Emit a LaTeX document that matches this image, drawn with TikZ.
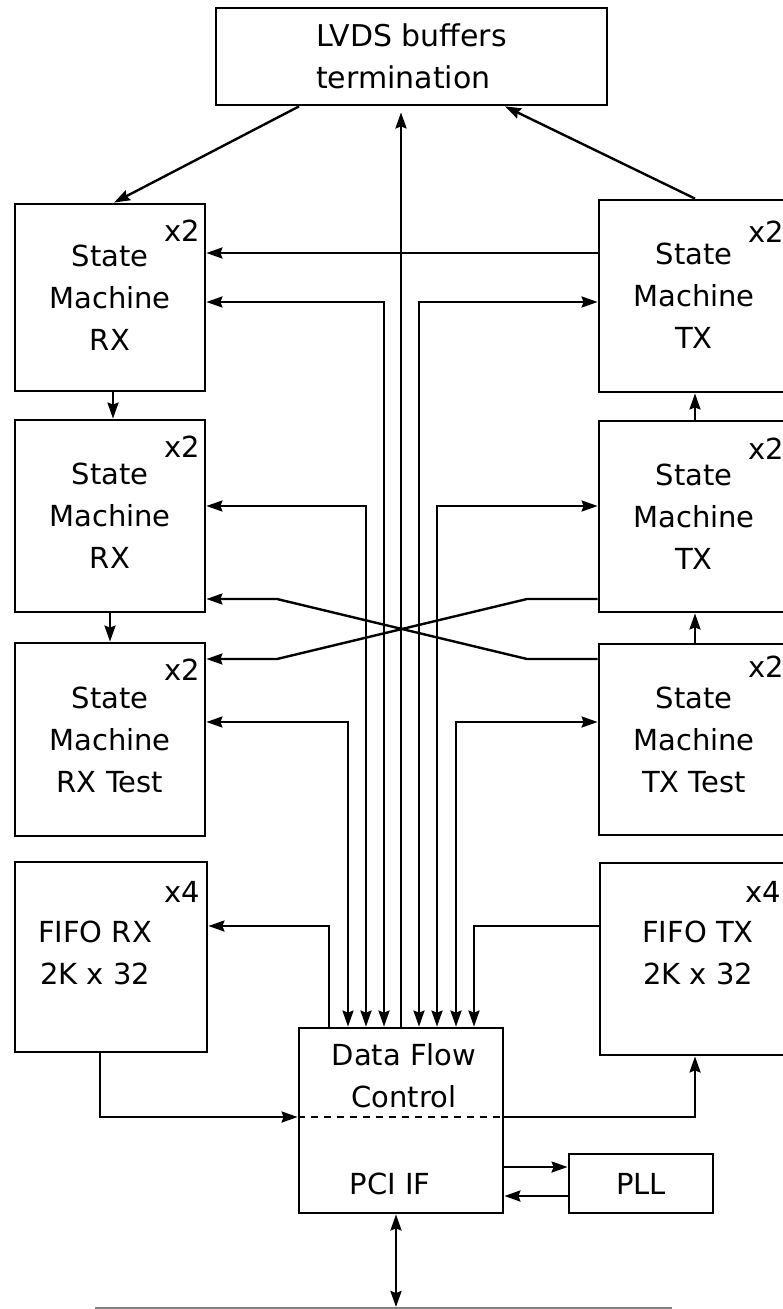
\documentclass[tikz,border=0pt]{standalone}
\usepackage{fontspec}
\setmainfont{DejaVu Sans}
\usetikzlibrary{arrows.meta}
\begin{document}
\begin{tikzpicture}[x=1pt,y=-1pt,
  line width=2.4pt,
  tip/.tip={Stealth[length=16pt,width=11pt,inset=2pt]},
  box/.style={draw, line width=2.8pt, inner sep=0pt, align=center, font=\fontsize{29}{42}\selectfont},
  txt/.style={inner sep=0pt, align=center, font=\fontsize{29}{42}\selectfont},
  arr/.style={-tip},
  barr/.style={tip-tip},
]
\useasboundingbox (0,0) rectangle (783,1309);
\clip (0,0) rectangle (783,1309);

% boxes
\node[box, align=left, font=\fontsize{30}{42}\selectfont, minimum width=391, minimum height=97] (lvds) at (411.5,56.5) {LVDS buffers\\termination};
\node[box, minimum width=190, minimum height=187] (rx1) at (110,297.5) {State\\Machine\\RX};
\node[box, minimum width=190, minimum height=192] (rx2) at (110,516) {State\\Machine\\RX};
\node[box, minimum width=190, minimum height=193] (rxt) at (110,739.5) {State\\Machine\\RX Test};
\node[box, minimum width=192, minimum height=190] (fiforx) at (111,957) {};
\node[box, minimum width=190, minimum height=192] (tx1) at (694,296) {State\\Machine\\TX};
\node[box, minimum width=190, minimum height=191] (tx2) at (694,516.5) {State\\Machine\\TX};
\node[box, minimum width=190, minimum height=191] (txt) at (694,739.5) {State\\Machine\\TX Test};
\node[box, minimum width=189, minimum height=192] (fifotx) at (694.5,959) {};
\node[box, minimum width=204, minimum height=185] (dfc) at (401,1120.5) {};
\node[box, minimum width=144, minimum height=59] (pll) at (641,1183.5) {PLL};

% labels
\node[txt] (n1) at (182,231) {x2};
\node[txt] (n2) at (182,447) {x2};
\node[txt] (n3) at (182,670) {x2};
\node[txt] (n4) at (182,892) {x4};
\node[txt] (n5) at (766,232) {x2};
\node[txt] (n6) at (766,449) {x2};
\node[txt] (n7) at (766,667) {x2};
\node[txt] (n8) at (763,892) {x4};
\node[txt] (fiforxt) at (95,953) {FIFO RX\\2K x 32};
\node[txt] (fifotxt) at (698,953) {FIFO TX\\2K x 32};
\node[txt] (dfct) at (404,1076) {Data Flow\\Control};
\node[txt] (pcit) at (390,1184) {PCI IF};

% LVDS connections
\coordinate (a1) at (299,0);
\coordinate (a2) at (114,0);
\coordinate (a3) at (695,0);
\coordinate (a4) at (505,0);
\coordinate (a5) at (401,0);
\draw[arr] (a1 |- lvds.south) -- (a2 |- rx1.north);
\draw[arr] (a3 |- tx1.north) -- (a4 |- lvds.south);
\draw[arr, shorten >=6pt] (a5 |- dfc.north) -- (a5 |- lvds.south);

% TX1 -> RX1
\coordinate (h1) at (0,253);
\draw[arr] (h1 -| tx1.west) -- (h1 -| rx1.east);

% DFC <-> state machines
\coordinate (p1) at (384,302);
\coordinate (p2) at (419,302);
\coordinate (p3) at (366,506);
\coordinate (p4) at (437,506);
\coordinate (p5) at (348,722);
\coordinate (p6) at (456,722);
\draw[barr] (p1 |- dfc.north) -- (p1) -- (p1 -| rx1.east);
\draw[barr] (p2 |- dfc.north) -- (p2) -- (p2 -| tx1.west);
\draw[barr] (p3 |- dfc.north) -- (p3) -- (p3 -| rx2.east);
\draw[barr] (p4 |- dfc.north) -- (p4) -- (p4 -| tx2.west);
\draw[barr] (p5 |- dfc.north) -- (p5) -- (p5 -| rxt.east);
\draw[barr] (p6 |- dfc.north) -- (p6) -- (p6 -| txt.west);

% crossing connections
\coordinate (k1) at (277,599);
\coordinate (k2) at (527,659);
\coordinate (k3) at (527,599);
\coordinate (k4) at (277,659);
\draw[arr] (k2 -| txt.west) -- (k2) -- (k1) -- (k1 -| rx2.east);
\draw[arr] (k3 -| tx2.west) -- (k3) -- (k4) -- (k4 -| rxt.east);

% chain arrows
\coordinate (v1) at (113,0);
\coordinate (v2) at (110,0);
\coordinate (v3) at (695,0);
\draw[arr] (v1 |- rx1.south) -- (v1 |- rx2.north);
\draw[arr] (v2 |- rx2.south) -- (v2 |- rxt.north);
\draw[arr] (v3 |- tx2.north) -- (v3 |- tx1.south);
\draw[arr] (v3 |- txt.north) -- (v3 |- tx2.south);

% FIFOs
\coordinate (f1) at (100,1117);
\coordinate (f2) at (695,1117);
\coordinate (f3) at (329,926);
\coordinate (f4) at (474,926);
\draw[arr] (f1 |- fiforx.south) -- (f1) -- (f1 -| dfc.west);
\draw[arr] (f2 -| dfc.east) -- (f2) -- (f2 |- fifotx.south);
\draw[dash pattern=on 7pt off 6pt] (f1 -| dfc.west) -- (f1 -| dfc.east);
\draw[arr] (f3 |- dfc.north) -- (f3) -- (f3 -| fiforx.east);
\draw[arr] (f4 -| fifotx.west) -- (f4) -- (f4 |- dfc.north);

% PLL
\coordinate (g1) at (0,1167);
\coordinate (g2) at (0,1196);
\draw[arr] (g1 -| dfc.east) -- (g1 -| pll.west);
\draw[arr] (g2 -| pll.west) -- (g2 -| dfc.east);

% PCI bus
\coordinate (busl) at (95,1308);
\coordinate (busr) at (672,1308);
\coordinate (bus) at (396,1307);
\draw[barr] (bus |- dfc.south) -- (bus);
\draw[gray, line width=1.5pt] (busl) -- (busr);
\end{tikzpicture}
\end{document}
